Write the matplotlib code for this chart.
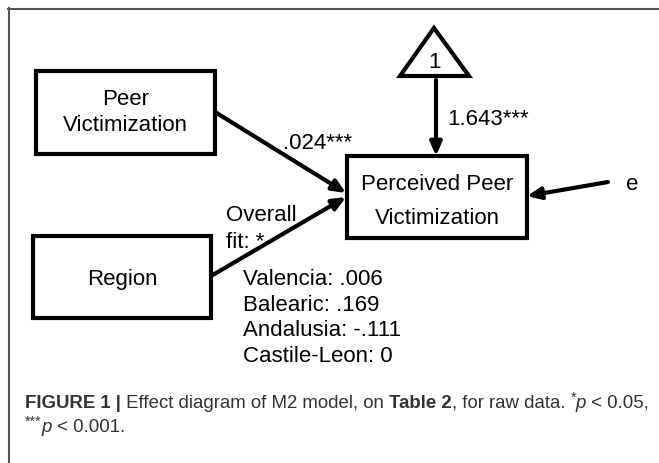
import matplotlib
matplotlib.use('Agg')
import matplotlib.pyplot as plt
from matplotlib.patches import Rectangle, Polygon

plt.rcParams['font.family'] = ['Liberation Sans', 'DejaVu Sans']

# path diagram content
box_labels = [['Peer', 'Victimization'], ['Region'],
              ['Perceived Peer', 'Victimization']]
coef_peer = '.024***'
coef_intercept = '1.643***'
overall_fit = ['Overall', 'fit: *']
regions = ['Valencia', 'Balearic', 'Andalusia', 'Castile-Leon']
region_coefs = ['.006', '.169', '-.111', '0']

FS = 16

fig = plt.figure(figsize=(6.59, 4.63), dpi=100)
ax = fig.add_axes([0, 0, 1, 1])
ax.set_xlim(0, 659)
ax.set_ylim(463, 0)
ax.axis('off')


def put(x, y, s, fs=FS, ha='left', **kw):
    # y is the visual middle of capital letters
    return ax.text(x, y + 0.358 * fs * 100 / 72, s, ha=ha, va='baseline',
                   fontsize=fs, **kw)


# outer frame (open on right / bottom)
ax.plot([8, 659], [8.5, 8.5], color='#555555', lw=1.5)
ax.plot([8.5, 8.5], [8, 463], color='#555555', lw=1.5)

# boxes: x0, y0, x1, y1, line centres
boxes = [(36, 71, 215, 154, [97, 123]), (33, 236, 211, 318, [277]),
         (347, 156, 527, 238, [182, 216])]
for (x0, y0, x1, y1, ys), lab in zip(boxes, box_labels):
    ax.add_patch(Rectangle((x0, y0), x1 - x0, y1 - y0, fill=False,
                           edgecolor='black', lw=3))
    for s, y in zip(lab, ys):
        put((x0 + x1) / 2, y, s, ha='center')

# intercept triangle
ax.add_patch(Polygon([(434, 28), (400, 76), (469, 76)], closed=True,
                     fill=False, edgecolor='black', lw=3, joinstyle='miter'))
put(434, 60, '1', ha='center')

arrow = dict(arrowstyle='-|>,head_length=0.8,head_width=0.35', color='black',
             lw=3, shrinkA=0, shrinkB=0)
ax.annotate('', xy=(436, 156), xytext=(436, 80), arrowprops=arrow)
ax.annotate('', xy=(346, 193), xytext=(215, 112), arrowprops=arrow)
ax.annotate('', xy=(346, 197), xytext=(211, 276), arrowprops=arrow)
ax.annotate('', xy=(527, 196), xytext=(608, 182), arrowprops=arrow)

put(447, 117, coef_intercept)
put(283, 141, coef_peer)
put(632, 182, 'e', ha='center')
for s, y in zip(overall_fit, [213, 240]):
    put(226, y, s)

for i, (r, c) in enumerate(zip(regions, region_coefs)):
    put(243, 277 + 25.6 * i, f'{r}: {c}')

# caption, built piece by piece: (text, weight, style, superscript)
cap1 = [('FIGURE 1 |', 'bold', 'normal', False),
        (' Effect diagram of M2 model, on ', 'normal', 'normal', False),
        ('Table 2', 'bold', 'normal', False),
        (', for raw data. ', 'normal', 'normal', False),
        ('*', 'normal', 'normal', True),
        ('p', 'normal', 'italic', False),
        (' < 0.05,', 'normal', 'normal', False)]
cap2 = [('***', 'normal', 'normal', True), ('p', 'normal', 'italic', False),
        (' < 0.001.', 'normal', 'normal', False)]

CFS = 13.4
fig.canvas.draw()
renderer = fig.canvas.get_renderer()
for parts, y in [(cap1, 401), (cap2, 425)]:
    x = 25
    for s, w, st, sup in parts:
        t = put(x, y - (4 if sup else 0), s, fs=CFS * (0.75 if sup else 1),
                fontweight=w, fontstyle=st, color='#333333')
        x += t.get_window_extent(renderer).width

fig.savefig('out.png', dpi=100)
